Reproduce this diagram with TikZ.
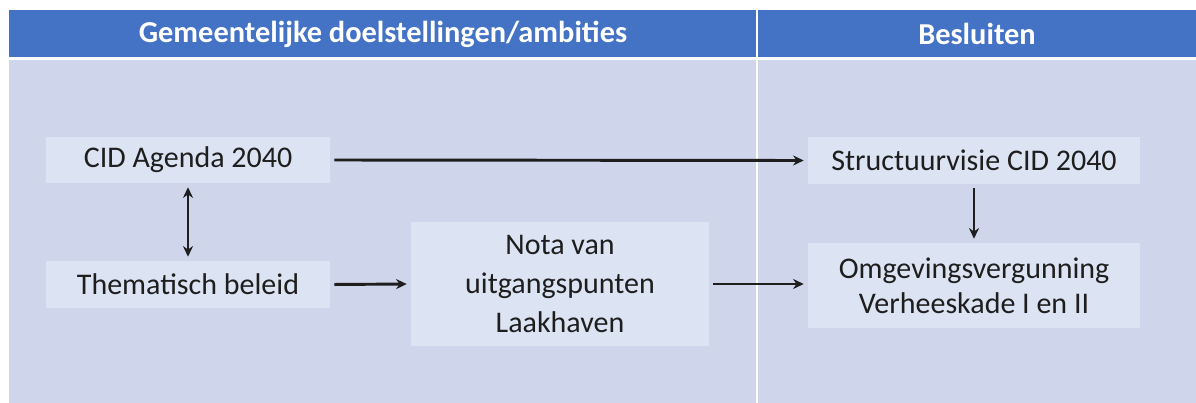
\documentclass[tikz,border=0pt]{standalone}
\usepackage{fontspec}
\setmainfont{Carlito}
\usetikzlibrary{arrows.meta}
\definecolor{hdr}{HTML}{4472C4}
\definecolor{bodyc}{HTML}{CFD5EA}
\definecolor{boxc}{HTML}{DCE3F2}
\definecolor{txt}{HTML}{1E1E1E}
\begin{document}
\begin{tikzpicture}[x=0.75pt,y=-0.75pt,
  box/.style={fill=boxc,draw=none,text=txt,font=\fontsize{22.5}{26}\selectfont,align=center,inner sep=0pt},
  conn/.style={line width=2.2pt,-{Stealth[length=8pt,width=7.5pt]},txt,shorten >=3pt,shorten <=3pt},
  hdrtext/.style={text=white,font=\bfseries\fontsize{22.8}{26}\selectfont}]
\useasboundingbox (0,0) rectangle (1196,403);
\fill[white] (0,0) rectangle (1196,403);
% header and body
\fill[hdr] (9,10) rectangle (1196,57);
\fill[bodyc] (9,60) rectangle (1196,403);
\draw[white,line width=1.5pt] (757,10) -- (757,403);
\node[hdrtext] (h1) at (383,34) {Gemeentelijke doelstellingen/ambities};
\node[hdrtext] (h2) at (977,34) {Besluiten};
% boxes
\node[box,minimum width=284*0.75pt,minimum height=46*0.75pt] (cid) at (188,160) {CID Agenda 2040};
\node[box,minimum width=284*0.75pt,minimum height=47*0.75pt] (them) at (188,284.5) {Thematisch beleid};
\node[box,minimum width=298*0.75pt,minimum height=124*0.75pt] (nota) at (560,284) {Nota van\\[3pt]uitgangspunten\\[3pt]Laakhaven};
\node[box,minimum width=332*0.75pt,minimum height=47*0.75pt] (struct) at (974,160.5) {Structuurvisie CID 2040};
\node[box,minimum width=332*0.75pt,minimum height=85*0.75pt] (omg) at (974,285.5) {Omgevingsvergunning\\Verheeskade I en II};
% connectors
\draw[conn] (cid.east) -- (struct.west);
\draw[conn,{Stealth[length=8pt,width=7.5pt]}-{Stealth[length=8pt,width=7.5pt]}] (cid.south) -- (them.north);
\draw[conn] (them.east) -- (nota.west);
\draw[conn] (nota.east) -- (nota.east -| omg.west);
\draw[conn] (struct.south) -- (omg.north);
\end{tikzpicture}
\end{document}
